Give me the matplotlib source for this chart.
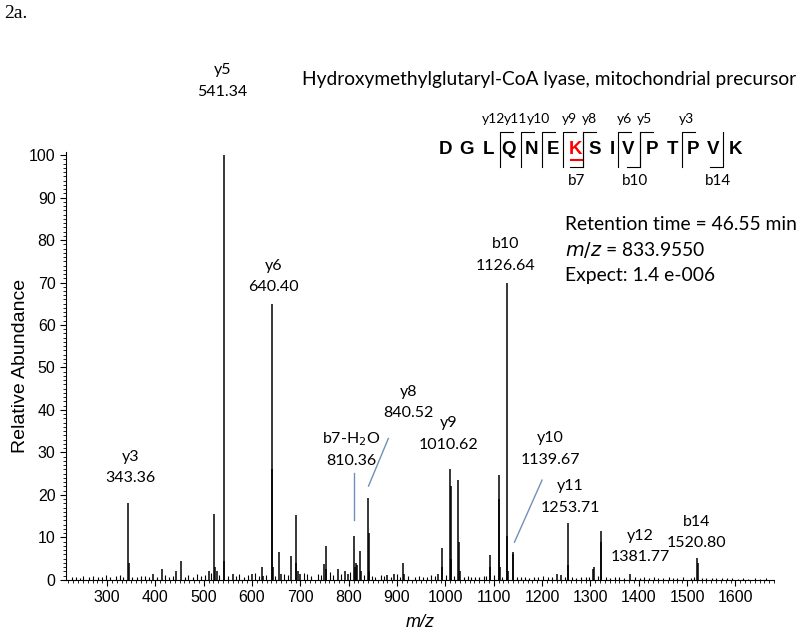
import numpy as np
import matplotlib.pyplot as plt
from matplotlib.ticker import MultipleLocator

# annotated / main fragment peaks (m/z, relative abundance)
peak_mz = [343.4, 344.4, 396, 413, 443, 452, 510, 522, 523.5, 527,
           541.3, 542.3, 560, 600, 620, 622, 640.4, 641.4, 643,
           656.5, 660, 681, 690.5, 691.5, 695, 700, 748, 753, 754,
           777, 793, 798, 810.4, 812, 815, 818, 823.7, 825,
           840.5, 841.5, 843, 880, 893, 913, 915,
           985, 992.5, 994, 1010.6, 1011.6, 1012.6, 1027, 1028, 1030,
           1092, 1093, 1111, 1112, 1113, 1126.6, 1127.6, 1129, 1139.7, 1140.7,
           1230, 1240, 1253.7, 1254.7, 1306, 1308, 1322, 1323, 1381.8, 1520.8, 1521.8]
peak_int = [18, 4, 1.5, 2.5, 2, 4.5, 2, 15.5, 3, 2,
            100, 4.5, 1.5, 1.5, 3, 1, 65, 26, 3,
            6.5, 1.5, 5.7, 15.3, 4, 2, 1.5, 3.7, 8.1, 2.5,
            2.5, 2, 1.5, 10.4, 3, 4, 3.5, 6.9, 2,
            19.4, 11, 2, 1.2, 1.5, 4, 1.5,
            1.5, 7.6, 3, 26, 22, 5, 23.5, 9, 2,
            5.9, 3, 24.7, 19, 3, 70, 10.4, 2, 6.7, 6,
            1.5, 1.2, 13.5, 3.5, 2.5, 3, 11.5, 9, 1.5, 5.1, 4]

# low-level background peaks
noise_mz = [228, 236, 245, 251, 262, 270, 281, 289, 297, 306, 318, 327, 333, 352, 361,
            370, 378, 387, 404, 420, 428, 436, 461, 468, 477, 486, 494, 502, 515, 532,
            550, 566, 574, 583, 591, 607, 614, 628, 648, 667, 674, 707, 714, 722, 736,
            742, 761, 768, 785, 803, 831, 849, 855, 866, 872, 887, 899, 906, 922, 938,
            946, 953, 962, 970, 978, 1002, 1018, 1038, 1046, 1054, 1062, 1070, 1080, 1085,
            1101, 1118, 1148, 1156, 1165, 1174, 1183, 1192, 1201, 1212, 1220, 1248, 1262,
            1270, 1280, 1290, 1298, 1315, 1332, 1341, 1350, 1360, 1370, 1392, 1402, 1412,
            1421, 1432, 1440, 1450, 1462, 1470, 1480, 1491, 1508, 1514, 1530, 1540, 1552,
            1561, 1572, 1583, 1594, 1605, 1615, 1626, 1640, 1652, 1663]
noise_int = [0.6, 0.8, 0.5, 0.9, 0.7, 1.0, 0.6, 0.8, 1.1, 0.7, 0.9, 1.2, 0.6, 0.8, 0.7,
             1.0, 0.9, 0.6, 0.8, 1.1, 0.7, 0.9, 0.8, 1.2, 0.7, 1.4, 0.9, 1.1, 1.6, 1.2,
             1.0, 0.9, 1.3, 0.8, 1.1, 1.7, 0.9, 1.2, 1.0, 1.4, 1.1, 1.6, 1.3, 1.0, 1.5,
             1.2, 1.8, 1.1, 1.4, 1.9, 1.2, 1.0, 0.8, 1.1, 0.9, 0.7, 1.3, 0.8, 0.9, 0.7,
             1.0, 0.6, 0.8, 1.1, 0.9, 1.2, 1.0, 0.8, 0.9, 0.6, 0.8, 0.7, 1.0, 0.9,
             1.2, 0.8, 0.7, 0.6, 0.8, 0.5, 0.7, 0.6, 0.9, 0.7, 0.8, 0.6, 0.7,
             0.5, 0.8, 0.6, 0.7, 0.9, 0.6, 0.5, 0.8, 0.6, 0.5, 0.6, 0.5, 0.7,
             0.5, 0.6, 0.4, 0.5, 0.6, 0.4, 0.5, 0.7, 0.5, 0.6, 0.4, 0.5, 0.4,
             0.5, 0.4, 0.5, 0.4, 0.3, 0.4, 0.3, 0.4, 0.3, 0.4]

# ion labels: name, value, x (m/z), y of name
ion_names = ['y5', 'y6', 'b10', 'y3', 'b7-H$_2$O', 'y8', 'y9', 'y10', 'y11', 'y12', 'b14']
ion_values = ['541.34', '640.40', '1126.64', '343.36', '810.36', '840.52', '1010.62',
              '1139.67', '1253.71', '1381.77', '1520.80']
ion_x = [538, 644, 1124, 349, 806, 923, 1006, 1217, 1258, 1404, 1520]
ion_y = [120, 74, 79, 29, 33.2, 44.3, 36.9, 33.3, 22, 10.4, 13.7]

# leader lines (x0, y0, x1, y1)
leaders = [(811, 25.2, 811, 14), (882, 33.3, 841, 22.1), (1200, 23.5, 1143, 8.9)]

sequence = list('DGLQNEKSIVPTPVK')
res_x = [445, 466.7, 488.3, 508.3, 531.7, 553.3, 575, 595, 612.7, 628.3, 651.7, 672.7,
         693.3, 713.3, 735]
y_ions = ['y12', 'y11', 'y10', 'y9', 'y8', 'y6', 'y5', 'y3']
y_break_x = [500, 520.7, 541.7, 563.3, 583.3, 618.3, 640, 681.7]
y_label_x = [494, 516, 538.5, 569, 589, 624, 644, 686]
b_ions = ['b7', 'b10', 'b14']
b_break_x = [583.3, 640, 723.3]
b_label_x = [576.7, 635, 717.7]

fig = plt.figure(figsize=(8, 6.34), dpi=100)
ax = fig.add_axes([0.0825, 0.0852, 0.885, 0.675])

ax.vlines(noise_mz, 0, noise_int, color='black', lw=0.8)
ax.vlines(peak_mz, 0, peak_int, color='black', lw=1.1)

ax.set_xlim(215, 1680)
ax.set_ylim(0, 100.7)
ax.spines['top'].set_visible(False)
ax.spines['right'].set_visible(False)
ax.set_xticks(np.arange(300, 1700, 100))
ax.xaxis.set_minor_locator(MultipleLocator(10))
ax.yaxis.set_major_locator(MultipleLocator(10))
ax.yaxis.set_minor_locator(MultipleLocator(1))
ax.tick_params(which='major', length=4, direction='out', labelsize=11.5)
ax.tick_params(which='minor', length=2.5, direction='out')
for t in ax.get_xticklabels() + ax.get_yticklabels():
    t.set_family('Liberation Sans')
ax.set_xlabel('m/z', fontsize=13, style='italic', family='Liberation Sans', labelpad=6)
ax.set_ylabel('Relative Abundance', fontsize=14, family='Liberation Sans')
ax.yaxis.set_label_coords(-0.052, 0.5)

lbl = dict(ha='center', va='center', fontsize=11.5, family='Lato', clip_on=False)
for n, v, x, y in zip(ion_names, ion_values, ion_x, ion_y):
    ax.text(x, y, n, **lbl)
    ax.text(x, y - 5.1, v, **lbl)
for x0, y0, x1, y1 in leaders:
    ax.plot([x0, x1], [y0, y1], color='#6f90b8', lw=1.0)

# text in figure pixels
W, H = 800, 634
def fx(px):
    return px / W
def fy(py):
    return 1 - py / H

fig.text(fx(4), fy(13), '2a.', fontsize=14, family='Liberation Serif', va='center')
fig.text(fx(796), fy(80), 'Hydroxymethylglutaryl-CoA lyase, mitochondrial precursor',
         fontsize=13.8, family='Lato', ha='right', va='center')

for i, (aa, x) in enumerate(zip(sequence, res_x)):
    fig.text(fx(x), fy(150), aa, fontsize=13.5, weight='bold', family='Liberation Sans',
             ha='center', va='center', color='red' if i == 6 else 'black')
# underline on the modified K
fig.add_artist(plt.Line2D([fx(570.5), fx(581.5)], [fy(160), fy(160)], color='red', lw=1.5))

top, bot = 131.7, 166.7
for name, x, lx in zip(y_ions, y_break_x, y_label_x):
    fig.add_artist(plt.Line2D([fx(x), fx(x), fx(x + 13)], [fy(bot), fy(top), fy(top)],
                              color='black', lw=0.8))
    fig.text(fx(lx), fy(119), name, fontsize=10, family='Lato', ha='center', va='center')
for name, x, lx in zip(b_ions, b_break_x, b_label_x):
    fig.add_artist(plt.Line2D([fx(x), fx(x), fx(x - 13)], [fy(top), fy(bot), fy(bot)],
                              color='black', lw=0.8))
    fig.text(fx(lx), fy(181), name, fontsize=11, family='Lato', ha='center', va='center')

info = ['Retention time = 46.55 min', '$\\it{m/z}$ = 833.9550', 'Expect: 1.4 e-006']
for k, s in enumerate(info):
    fig.text(fx(565), fy(225 + 25 * k), s, fontsize=13.9, family='Lato', va='center')

fig.savefig('out.png', dpi=100)
